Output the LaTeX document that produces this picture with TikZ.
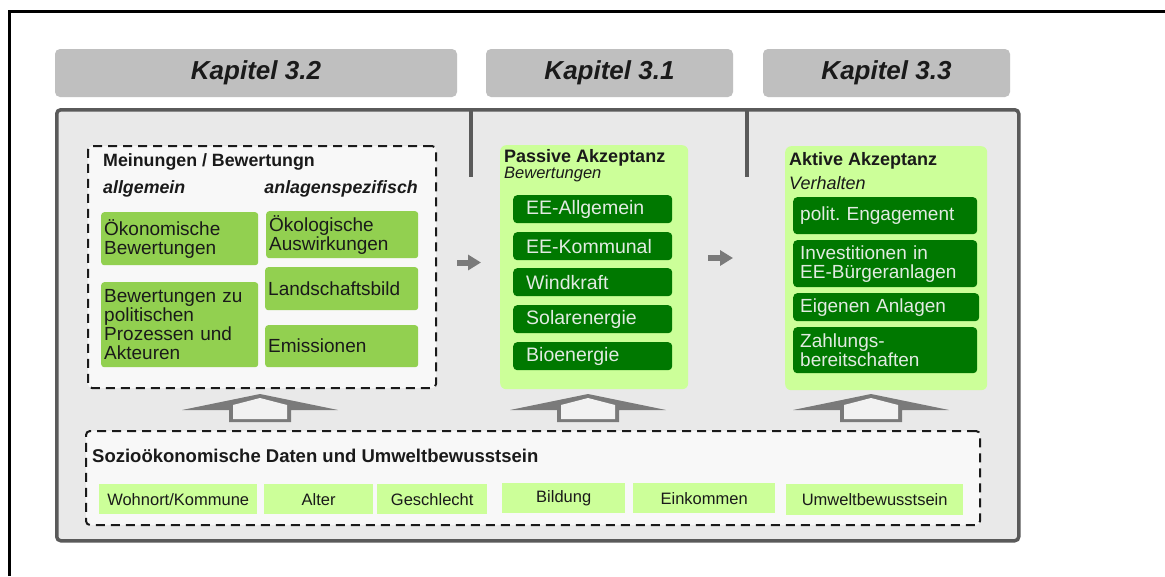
\documentclass[tikz,border=0pt]{standalone}
\usepackage{fontspec}
\setmainfont{Liberation Sans}
\usetikzlibrary{arrows.meta}
\definecolor{kapgray}{HTML}{BFBFBF}
\definecolor{panelfill}{HTML}{E9E9E9}
\definecolor{paneldraw}{HTML}{5A5A5A}
\definecolor{dashfill}{HTML}{F8F8F8}
\definecolor{midgreen}{HTML}{92D050}
\definecolor{lightgreen}{HTML}{CCFF99}
\definecolor{darkgreen}{HTML}{007800}
\definecolor{paletext}{HTML}{E2EBE2}
\definecolor{arrowgray}{HTML}{7A7A7A}
\definecolor{inkblack}{HTML}{1A1A1A}
\frenchspacing
\begin{document}
\begin{tikzpicture}[x=1pt,y=-1pt,
  kap/.style={fill=kapgray, rounded corners=5pt, minimum height=48pt, inner sep=0pt,
    font=\fontsize{26}{26}\selectfont\bfseries\itshape, text=inkblack},
  panel/.style={draw=paneldraw, fill=panelfill, line width=3.5pt, rounded corners=4pt, anchor=north west, inner sep=0pt},
  dashbox/.style={draw=inkblack, fill=dashfill, line width=2pt, dash pattern=on 9pt off 6pt, rounded corners=4pt, anchor=north west, inner sep=0pt},
  lgreenbox/.style={fill=lightgreen, rounded corners=6pt, anchor=north west, inner sep=0pt},
  gbox/.style={fill=midgreen, rounded corners=3pt, anchor=north west, inner xsep=3pt, inner ysep=0pt,
    align=left, font=\fontsize{19}{19}\selectfont, text=inkblack},
  dbox/.style={fill=darkgreen, rounded corners=4pt, anchor=north west, inner ysep=0pt,
    align=left, text=paletext},
  lbox/.style={fill=lightgreen, anchor=north west, inner sep=0pt,
    font=\fontsize{16.5}{16.5}\selectfont, text=inkblack},
  ttl/.style={anchor=west, inner sep=0pt, text=inkblack},
  garrow/.style={draw=arrowgray, line width=6pt, -{Triangle[length=13pt,width=15pt]}},
  uparr/.pic={
    \fill[arrowgray] (-31,12) -- (-31,0) -- (-78,0) -- (0,-16) -- (78,0) -- (31,0) -- (31,12) -- cycle;
    \fill[panelfill!60!white] (-27,9) -- (-27,-5) -- (0,-12) -- (27,-5) -- (27,9) -- cycle;
  }
]
\useasboundingbox (0,0) rectangle (1165,576);
\fill[white] (0,0) rectangle (1165,576);
\draw[line width=3pt] (9,576) -- (9,11) -- (1165,11);

% chapter headers
\node[kap, minimum width=402pt] (k32) at (256,73) {Kapitel 3.2};
\node[kap, minimum width=247pt] (k31) at (609.5,73) {Kapitel 3.1};
\node[kap, minimum width=247pt] (k33) at (886.5,73) {Kapitel 3.3};

% main panel
\node[panel, minimum width=962pt, minimum height=431pt] (panel) at (55,108) {};
\draw[paneldraw, line width=4pt] (471,108) -- (471,177);
\draw[paneldraw, line width=4pt] (747,108) -- (747,177);

% left dashed box
\node[dashbox, minimum width=348pt, minimum height=242pt] (mein) at (87,145) {};
\node[ttl, font=\fontsize{17.8}{17.8}\selectfont\bfseries] (meint) at (103,162) {Meinungen / Bewertungn};
\node[ttl, font=\fontsize{17.8}{17.8}\selectfont\bfseries\itshape] (allg) at (103,189) {allgemein};
\node[ttl, anchor=east, font=\fontsize{17.8}{17.8}\selectfont\bfseries\itshape] (anl) at (418,189) {anlagenspezifisch};

\node[gbox, minimum width=157pt, minimum height=53pt, text width=151pt] (oekon) at (101,212) {Ökonomische\\Bewertungen};
\node[gbox, minimum width=157pt, minimum height=85pt, text width=151pt] (polit) at (101,282) {Bewertungen zu\\politischen\\Prozessen und\\Akteuren};
\node[gbox, minimum width=152pt, minimum height=47pt, text width=146pt] (oekol) at (266,211) {Ökologische\\Auswirkungen};
\node[gbox, minimum width=153pt, minimum height=43pt, text width=147pt] (land) at (265,267) {Landschaftsbild};
\node[gbox, minimum width=153pt, minimum height=42pt, text width=147pt] (emis) at (265,325) {Emissionen};

% passive acceptance
\node[lgreenbox, minimum width=188pt, minimum height=244pt] (pass) at (500,145) {};
\node[ttl, font=\fontsize{18}{18}\selectfont\bfseries] (passt) at (504,158) {Passive Akzeptanz};
\node[ttl, font=\fontsize{16.5}{16.5}\selectfont\itshape] (passs) at (504,175) {Bewertungen};
\foreach \nm/\yy/\tx in {eea/195/EE-Allgemein, eek/232/EE-Kommunal, wind/268/Windkraft, solar/305/Solarenergie, bio/342/Bioenergie}{
  \node[dbox, minimum width=159pt, minimum height=28pt, inner xsep=13pt, text width=133pt,
    font=\fontsize{19.5}{19.5}\selectfont] (\nm) at (513,\yy) {\tx};
}

% active acceptance
\node[lgreenbox, minimum width=202pt, minimum height=244pt] (akt) at (785,146) {};
\node[ttl, font=\fontsize{18}{18}\selectfont\bfseries] (aktt) at (789,161) {Aktive Akzeptanz};
\node[ttl, font=\fontsize{18}{18}\selectfont\itshape] (akts) at (789,183) {Verhalten};
\node[dbox, minimum width=184pt, minimum height=37pt, inner xsep=7pt, text width=170pt, font=\fontsize{19}{19}\selectfont] (pol) at (793,197) {polit. Engagement};
\node[dbox, minimum width=184pt, minimum height=47pt, inner xsep=7pt, text width=170pt, font=\fontsize{19}{19}\selectfont] (inv) at (793,240) {Investitionen in\\EE-Bürgeranlagen};
\node[dbox, minimum width=186pt, minimum height=28pt, inner xsep=7pt, text width=172pt, font=\fontsize{19}{19}\selectfont] (eig) at (793,293) {Eigenen Anlagen};
\node[dbox, minimum width=184pt, minimum height=46pt, inner xsep=7pt, text width=170pt, font=\fontsize{19}{19}\selectfont] (zahl) at (793,327) {Zahlungs-\\bereitschaften};

% small arrows
\coordinate (a1s) at (457,262.5);
\coordinate (a1e) at (481,262.5);
\coordinate (a2s) at (708,258);
\coordinate (a2e) at (733,258);
\draw[garrow] (a1s) -- (a1e);
\draw[garrow] (a2s) -- (a2e);

% up arrows
\pic at (260,410) {uparr};
\pic at (588,410) {uparr};
\pic at (871,410) {uparr};

% bottom box
\node[dashbox, minimum width=894pt, minimum height=94pt] (socio) at (85,430) {};
\node[ttl, font=\fontsize{18.5}{18.5}\selectfont\bfseries] (sociot) at (92,456) {Sozioökonomische Daten und Umweltbewusstsein};
\node[lbox, minimum width=158pt, minimum height=30pt] (wohn) at (99,484) {Wohnort/Kommune};
\node[lbox, minimum width=109pt, minimum height=30pt] (alter) at (264,484) {Alter};
\node[lbox, minimum width=110pt, minimum height=30pt] (gesch) at (377,484) {Geschlecht};
\node[lbox, minimum width=123pt, minimum height=30pt] (bild) at (502,483) {Bildung};
\node[lbox, minimum width=142pt, minimum height=30pt] (eink) at (633,483) {Einkommen};
\node[lbox, minimum width=177pt, minimum height=31pt] (umw) at (786,484) {Umweltbewusstsein};
\end{tikzpicture}
\end{document}
